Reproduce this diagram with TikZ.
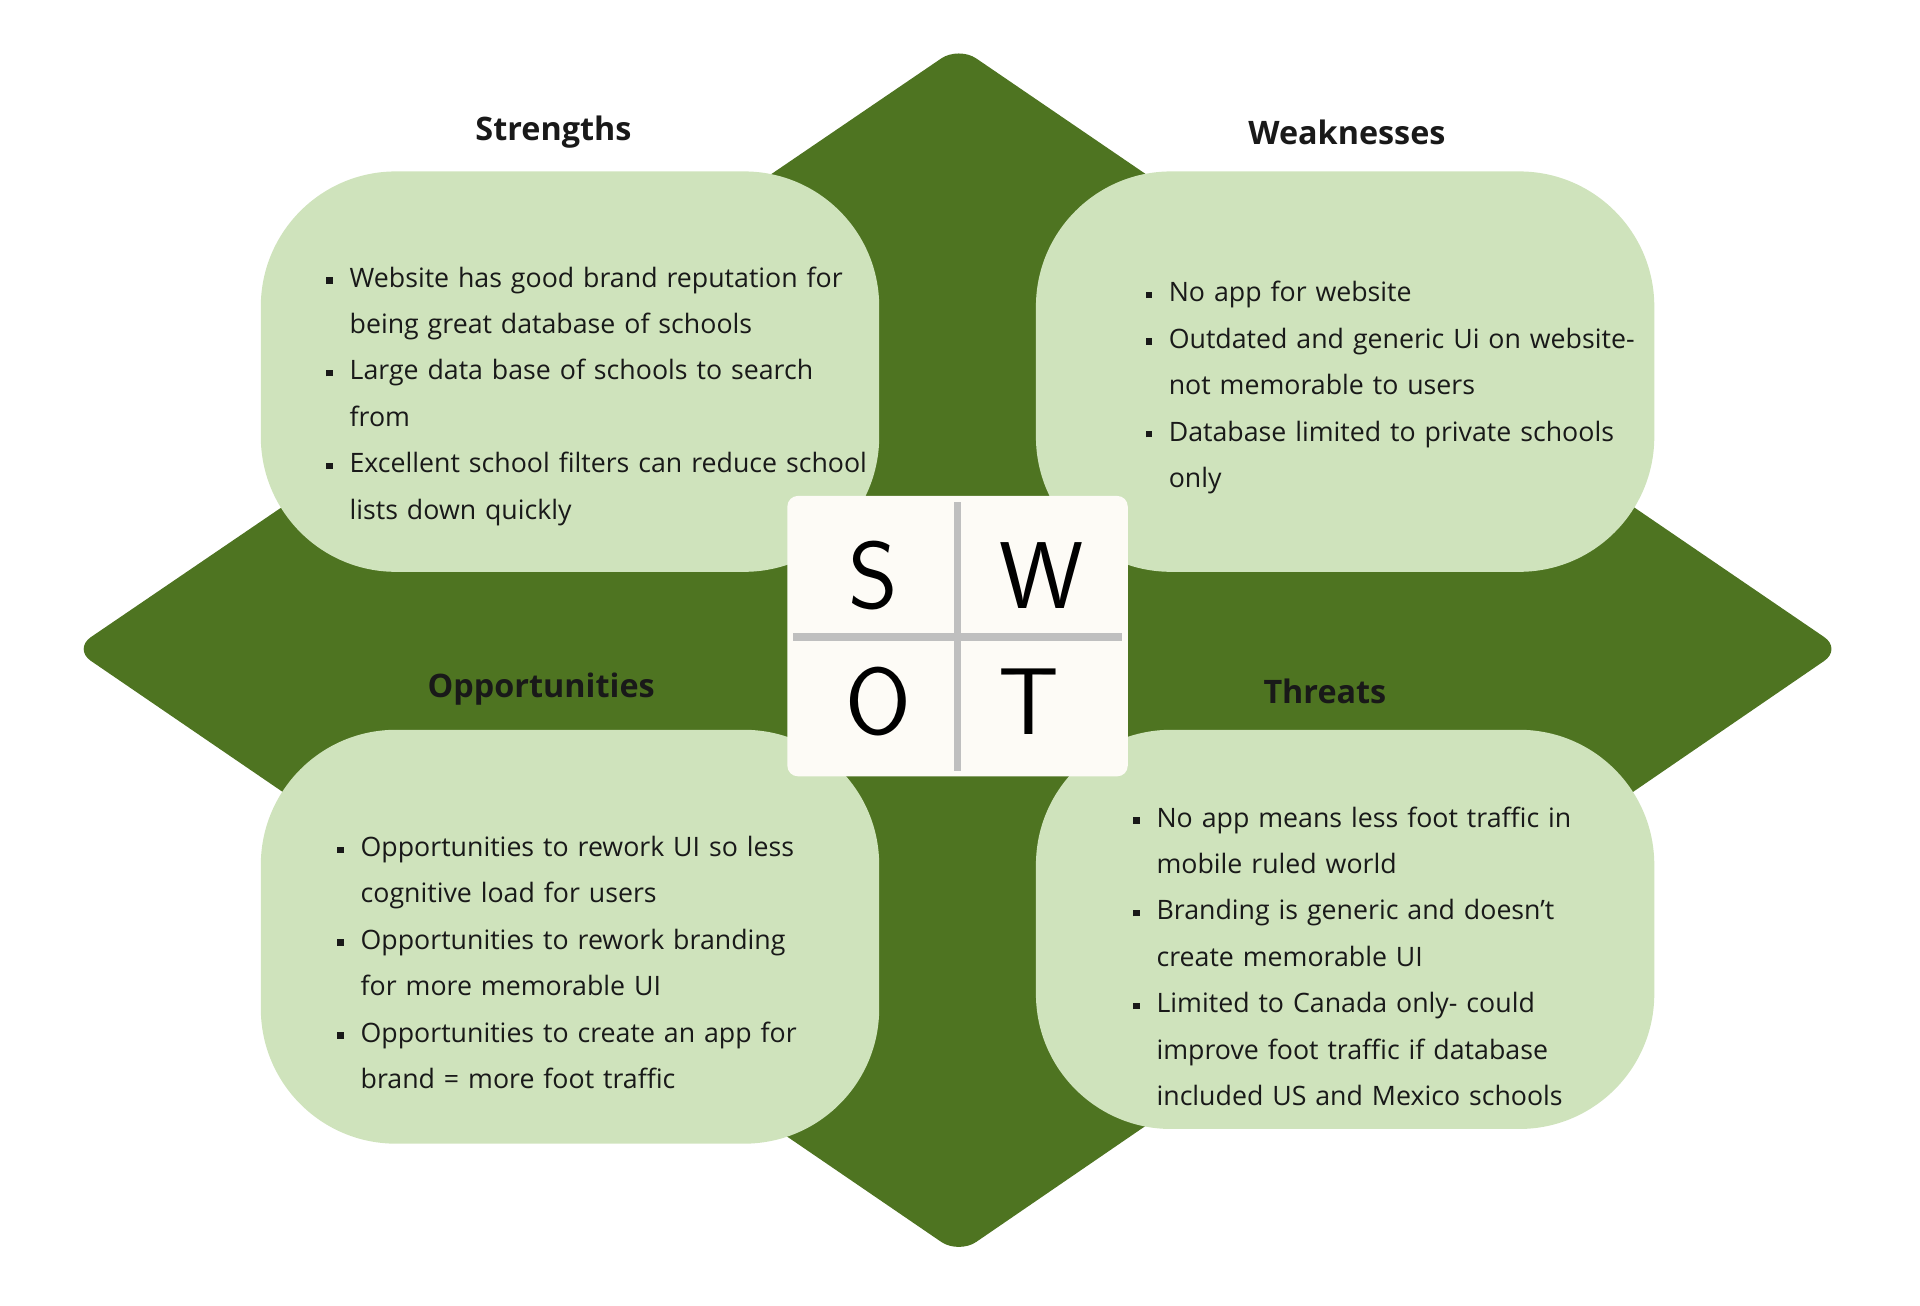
\documentclass[tikz,border=0pt]{standalone}
\usepackage{fontspec}
\setmainfont{Open Sans}
\definecolor{leaf}{HTML}{4E7421}
\definecolor{pale}{HTML}{CFE3BC}
\definecolor{paper}{HTML}{FDFBF6}
\newcommand{\blt}[1]{\par\hangindent=6.6pt\hangafter=1\noindent\makebox[6.6pt][l]{\raisebox{0.25ex}{\rule{1.8pt}{1.8pt}}}#1\par}
\begin{document}
\begin{tikzpicture}[x=0.012245cm,y=-0.012245cm]
		\tikzstyle{card}=[fill=pale,rounded corners=1.35cm]
		\tikzstyle{head}=[font=\fontsize{9.2}{11}\selectfont\bfseries,text=black!90]
		\tikzstyle{list}=[anchor=north west,align=left,inner sep=0,text width=6cm,font=\fontsize{7.6}{13.2}\selectfont,text=black!90]
		\tikzstyle{letter}=[font=\sffamily\fontsize{27}{30}\selectfont]
		
		\useasboundingbox (0,0) rectangle (1568,1066);
		\fill[leaf,rounded corners=6pt] (783,38)--(1504,530)--(783,1024)--(60,530)--cycle;
		
		\fill[card] (213,140) rectangle (718,467);
		\fill[card] (846,140) rectangle (1351,467);
		\fill[card] (213,596) rectangle (718,934);
		\fill[card] (846,596) rectangle (1351,922);
		
		\node [head] (sh) at (452,108) {Strengths};
		\node [head] (wh) at (1100,108) {Weaknesses};
		\node [head] (oh) at (442,563) {Opportunities};
		\node [head] (th) at (1082,565) {Threats};
		
		\node [list] (sl) at (266,196) {%
			\blt{Website has good brand reputation for\newline being great database of schools}
			\blt{Large data base of schools to search\newline from}
			\blt{Excellent school filters can reduce school\newline lists down quickly}};
		\node [list] (wl) at (935,208) {%
			\blt{No app for website}
			\blt{Outdated and generic Ui on website-\newline not memorable to users}
			\blt{Database limited to private schools\newline only}};
		\node [list] (ol) at (275,661) {%
			\blt{Opportunities to rework UI so less\newline cognitive load for users}
			\blt{Opportunities to rework branding\newline for more memorable UI}
			\blt{Opportunities to create an app for\newline brand = more foot traffic}};
		\node [list] (tl) at (925,637) {%
			\blt{No app means less foot traffic in\newline mobile ruled world}
			\blt{Branding is generic and doesn't\newline create memorable UI}
			\blt{Limited to Canada only- could\newline improve foot traffic if database\newline included US and Mexico schools}};
		
		\fill[paper,rounded corners=3pt] (643,405) rectangle (921,634);
		\draw[black!25,line width=2.2pt] (782,410)--(782,630) (648,520)--(916,520);
		\node [letter] (s) at (713,470) {S};
		\node [letter] (w) at (851,470) {W};
		\node [letter] (o) at (717,573) {O};
		\node [letter] (t) at (840,573) {T};
	\end{tikzpicture}
\end{document}
